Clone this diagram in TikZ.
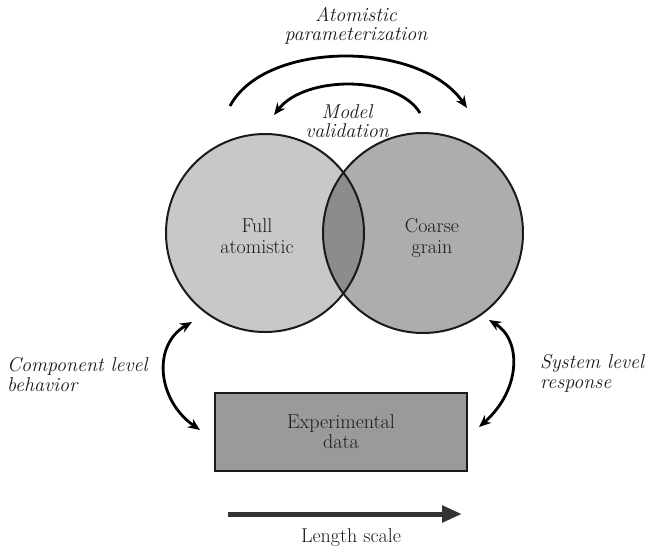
\documentclass[tikz,border=0pt]{standalone}
\usepackage{fontspec}
\usetikzlibrary{arrows.meta}
\definecolor{cfa}{HTML}{C8C8C8}
\definecolor{ccg}{HTML}{ADADAD}
\definecolor{cov}{HTML}{8C8C8C}
\definecolor{cbox}{HTML}{9A9A9A}
\definecolor{ink}{HTML}{1A1A1A}
\definecolor{darr}{HTML}{333333}
\begin{document}
\begin{tikzpicture}[x=1pt,y=-1pt,
  txt/.style={font=\fontsize{20}{21}\selectfont, text=ink, inner sep=0pt, align=center},
  itl/.style={font=\fontsize{20}{20}\selectfont\itshape, text=ink, inner sep=0pt},
  outline/.style={draw=ink, line width=2pt},
  arr/.style={draw=black, line width=2.8pt, -{Stealth[length=12pt,width=10pt]}},
  darr2/.style={draw=black, line width=2.8pt, {Stealth[length=12pt,width=10pt]}-{Stealth[length=12pt,width=10pt]}},
  boxst/.style={draw=ink, line width=2.5pt, fill=cbox, minimum width=252pt, minimum height=78pt, inner sep=0pt, align=center, font=\fontsize{20}{20}\selectfont, text=ink}]
\useasboundingbox (0,0) rectangle (647,550);
% circles
\node[circle, fill=cfa, minimum size=198pt, inner sep=0pt] (fa) at (265,233) {};
\node[circle, fill=ccg, minimum size=200pt, inner sep=0pt] (cg) at (423,233) {};
\begin{scope}
  \clip (fa.center) circle (99pt);
  \fill[cov] (cg.center) circle (100pt);
\end{scope}
\draw[outline] (fa.center) circle (99pt);
\draw[outline] (cg.center) circle (100pt);
\node[txt, anchor=base] (fat) at (257,253) {Full\\atomistic};
\node[txt, anchor=base] (cgt) at (432,253) {Coarse\\grain};
% box
\node[boxst] (exp) at (341,432) {Experimental\\data};
% labels
\node[itl, font=\fontsize{20}{18.3}\selectfont\itshape, align=center, anchor=base] (ap) at (356,40) {Atomistic\\parameterization};
\node[itl, font=\fontsize{20}{19}\selectfont\itshape, align=center, anchor=base] (mv) at (347,137) {Model\\validation};
\node[itl, align=left, anchor=base west] (clb) at (7,391) {Component level\\behavior};
\node[itl, align=left, anchor=base west] (slr) at (540,388) {System level\\response};
\node[txt, anchor=base] (ls) at (351,542) {Length scale};
% arcs
\coordinate (ao1) at (230,106); \coordinate (ao2) at (467,108);
\draw[arr] (ao1) .. controls (265,40) and (420,40) .. (ao2);
\coordinate (ai1) at (420,113); \coordinate (ai2) at (274,115);
\draw[arr] (ai1) .. controls (397,75) and (305,75) .. (ai2);
\coordinate (cl1) at (192,322); \coordinate (cl2) at (200,430);
\draw[darr2] (cl1) .. controls (152,345) and (157,400) .. (cl2);
\coordinate (cr1) at (489,320); \coordinate (cr2) at (479,427);
\draw[darr2] (cr1) .. controls (522,340) and (521,390) .. (cr2);
% length scale arrow
\coordinate (la1) at (228,514); \coordinate (la2) at (462,514);
\draw[darr, line width=5pt, -{Triangle[length=20pt,width=16pt]}] (la1) -- (la2);
\end{tikzpicture}
\end{document}
